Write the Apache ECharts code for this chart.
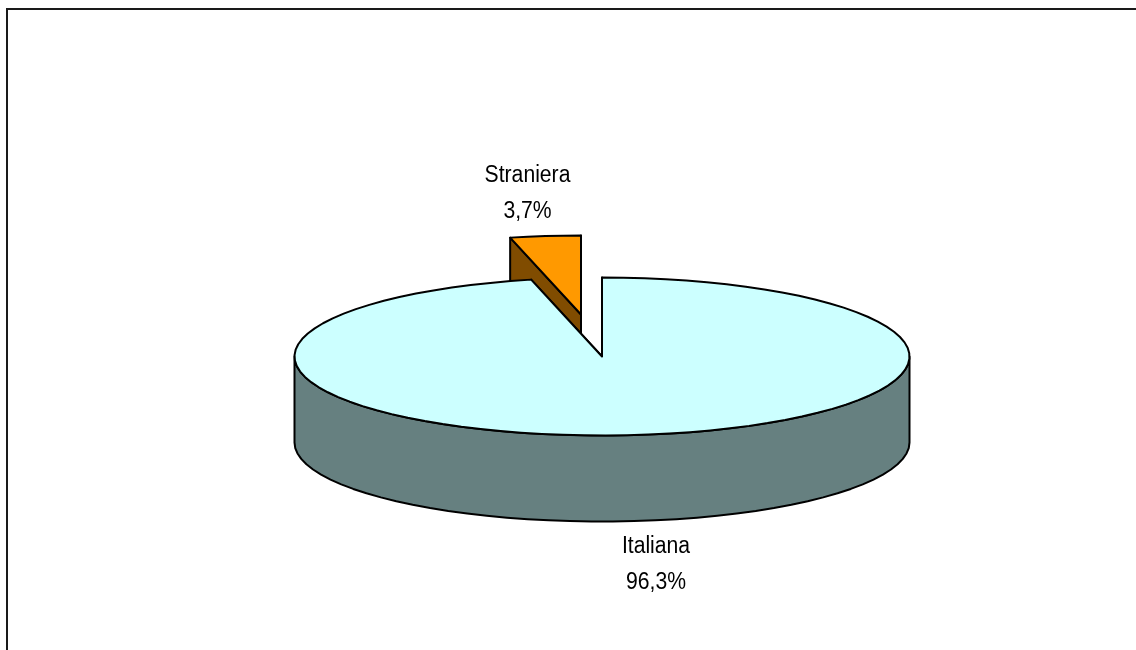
<!DOCTYPE html>
<html>
<head>
<meta charset="utf-8">
<style>
  html, body { margin: 0; padding: 0; background: #fff; }
  #main { width: 1136px; height: 650px; }
</style>
<script src="https://cdn.jsdelivr.net/npm/echarts@6/dist/echarts.min.js"></script>
</head>
<body>
<div id="main"></div>
<script>
var categories = ['Italiana', 'Straniera'];
var shares = [96.3, 3.7];
var shareLabels = ['96,3%', '3,7%'];

// pie geometry, px
var cx = 602, cy = 356.5, rx = 307.5, ry = 79, depth = 86;
var explodeX = [0, -21], explodeY = [0, -42];
var topColors = ['#CCFFFF', '#FF9900'];
var sideColors = ['#668080', '#804C00'];
var labelPos = [[656, 547], [527.5, 176]];
var lineGap = 36;

var total = shares.reduce(function (a, b) { return a + b; }, 0);
var starts = [], acc = 0;
shares.forEach(function (v) { starts.push(acc); acc += v / total * 360; });

function pt(ox, oy, deg) {
  var t = deg * Math.PI / 180;
  return [ox + rx * Math.sin(t), oy - ry * Math.cos(t)];
}
function arc(ox, oy, a, b) {
  var out = [], n = Math.max(1, Math.ceil((b - a) / 4));
  for (var i = 0; i <= n; i++) out.push(pt(ox, oy, a + (b - a) * i / n));
  return out;
}
function poly(points, fill) {
  return {
    type: 'polygon',
    shape: { points: points },
    style: { fill: fill, stroke: '#000', lineWidth: 2, lineJoin: 'round' }
  };
}
function down(points) {
  return points.map(function (p) { return [p[0], p[1] + depth]; }).reverse();
}

function renderSlice(params, api) {
  var i = api.value(0);
  var a = starts[i], b = a + api.value(1) / total * 360;
  var ox = cx + explodeX[i], oy = cy + explodeY[i];
  var apex = [ox, oy];
  var kids = [];
  // cut faces first, the top face hides whatever points backwards
  [a, b].forEach(function (d) {
    var edge = [apex, pt(ox, oy, d)];
    kids.push(poly(edge.concat(down(edge)), sideColors[i]));
  });
  // outer wall, only the front half shows
  var from = Math.max(a, 90), to = Math.min(b, 270);
  if (to > from) {
    var wall = arc(ox, oy, from, to);
    kids.push(poly(wall.concat(down(wall)), sideColors[i]));
  }
  kids.push(poly([apex].concat(arc(ox, oy, a, b)), topColors[i]));
  return { type: 'group', children: kids };
}

// exploded slice goes first so the big one covers its lower part
var order = categories.map(function (c, i) { return i; }).reverse();

var myChart = echarts.init(document.getElementById('main'), null, { renderer: 'canvas' });
myChart.setOption({
  animation: false,
  backgroundColor: '#fff',
  graphic: [
    {
      type: 'polyline',
      shape: { points: [[7, 650], [7, 9], [1136, 9]] },
      style: { fill: null, stroke: '#1a1a1a', lineWidth: 2 }
    }
  ].concat(categories.map(function (c, i) {
    return {
      type: 'text',
      x: labelPos[i][0],
      y: labelPos[i][1] + lineGap / 2,
      scaleX: 0.92,
      style: {
        text: c + '\n' + shareLabels[i],
        fill: '#000',
        font: '23px "Liberation Sans", Arial, sans-serif',
        lineHeight: lineGap,
        align: 'center',
        verticalAlign: 'middle'
      }
    };
  })),
  series: [{
    type: 'custom',
    coordinateSystem: 'none',
    renderItem: renderSlice,
    data: order.map(function (i) { return [i, shares[i]]; }),
    silent: true
  }]
});
</script>
</body>
</html>
